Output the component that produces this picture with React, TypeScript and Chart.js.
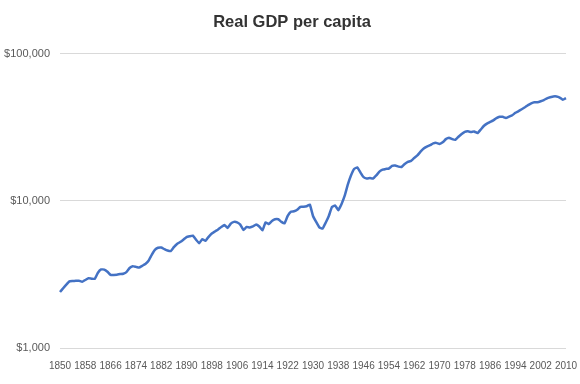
import React, { useEffect, useRef } from "react";
import { Chart, registerables } from "chart.js";

Chart.register(...registerables);

const chartTitle = "Real GDP per capita";

const years: string[] = [
  "1850","1851","1852","1853","1854","1855","1856","1857","1858","1859",
  "1860","1861","1862","1863","1864","1865","1866","1867","1868","1869",
  "1870","1871","1872","1873","1874","1875","1876","1877","1878","1879",
  "1880","1881","1882","1883","1884","1885","1886","1887","1888","1889",
  "1890","1891","1892","1893","1894","1895","1896","1897","1898","1899",
  "1900","1901","1902","1903","1904","1905","1906","1907","1908","1909",
  "1910","1911","1912","1913","1914","1915","1916","1917","1918","1919",
  "1920","1921","1922","1923","1924","1925","1926","1927","1928","1929",
  "1930","1931","1932","1933","1934","1935","1936","1937","1938","1939",
  "1940","1941","1942","1943","1944","1945","1946","1947","1948","1949",
  "1950","1951","1952","1953","1954","1955","1956","1957","1958","1959",
  "1960","1961","1962","1963","1964","1965","1966","1967","1968","1969",
  "1970","1971","1972","1973","1974","1975","1976","1977","1978","1979",
  "1980","1981","1982","1983","1984","1985","1986","1987","1988","1989",
  "1990","1991","1992","1993","1994","1995","1996","1997","1998","1999",
  "2000","2001","2002","2003","2004","2005","2006","2007","2008","2009",
  "2010",
];

const gdpPerCapita: number[] = [
  2400, 2550, 2700, 2840, 2850, 2860, 2870, 2820, 2900, 2980,
  2960, 2950, 3250, 3420, 3410, 3300, 3140, 3140, 3150, 3180,
  3200, 3280, 3500, 3600, 3560, 3520, 3620, 3720, 3920, 4300,
  4650, 4800, 4820, 4700, 4600, 4560, 4850, 5100, 5250, 5450,
  5680, 5750, 5800, 5450, 5150, 5500, 5350, 5700, 6000, 6200,
  6400, 6650, 6850, 6550, 7000, 7200, 7150, 6900, 6350, 6650,
  6600, 6700, 6920, 6700, 6300, 7150, 6950, 7300, 7500, 7500,
  7200, 7030, 7900, 8430, 8500, 8700, 9120, 9120, 9200, 9450,
  7900, 7200, 6610, 6480, 7100, 7900, 9100, 9300, 8650, 9500,
  10800, 12900, 14900, 16500, 16900, 15600, 14500, 14200, 14300, 14200,
  14900, 15800, 16300, 16500, 16600, 17300, 17400, 17100, 17000, 17800,
  18400, 18700, 19600, 20400, 21600, 22700, 23400, 23900, 24600, 24800,
  24400, 25000, 26300, 26900, 26300, 26000, 27300, 28500, 29500, 29700,
  29400, 29600, 28900, 30500, 32300, 33500, 34400, 35300, 36500, 37300,
  37300, 36600, 37400, 38200, 39700, 40800, 42000, 43300, 44800, 46100,
  46900, 46900, 47600, 48500, 49800, 50600, 51300, 51300, 50400, 48700,
  49900,
];

const yTickValues: number[] = [1000, 10000, 100000];
const xLabelStep = 8;

export default function App() {
  const ref = useRef<HTMLCanvasElement | null>(null);

  useEffect(() => {
    if (!ref.current) return;
    const chart = new Chart(ref.current, {
      type: "line",
      data: {
        labels: years,
        datasets: [
          {
            label: chartTitle,
            data: gdpPerCapita,
            borderColor: "#4472C4",
            backgroundColor: "#4472C4",
            borderWidth: 2.5,
            pointRadius: 0,
            tension: 0.1,
            fill: false,
          },
        ],
      },
      options: {
        animation: false,
        responsive: false,
        maintainAspectRatio: false,
        layout: { padding: { left: 4, right: 0, top: 0, bottom: 0 } },
        plugins: {
          legend: { display: false },
          tooltip: { enabled: false },
          title: {
            display: true,
            text: chartTitle,
            color: "#333333",
            font: { family: "'Liberation Sans', Arial, sans-serif", size: 16.5, weight: "bold" },
            padding: { top: 13, bottom: 21 },
          },
        },
        scales: {
          x: {
            type: "category",
            offset: false,
            grid: { display: false, drawTicks: false },
            border: { display: false },
            afterFit: (axis: any) => {
              axis.height = 36;
              axis.paddingLeft = 0;
              axis.paddingRight = 14;
            },
            ticks: {
              autoSkip: false,
              maxRotation: 0,
              minRotation: 0,
              padding: 12,
              color: "#595959",
              font: { family: "'Liberation Sans', Arial, sans-serif", size: 10 },
              callback: (_v: any, i: number) => (i % xLabelStep === 0 ? years[i] : ""),
            },
          },
          y: {
            type: "logarithmic",
            min: 1000,
            max: 100000,
            afterBuildTicks: (axis: any) => {
              axis.ticks = yTickValues.map((v) => ({ value: v }));
            },
            afterFit: (axis: any) => {
              axis.width = 56;
            },
            grid: { color: "#d9d9d9", lineWidth: 1, drawTicks: false },
            border: { display: false },
            ticks: {
              padding: 10,
              color: "#595959",
              font: { family: "'Liberation Sans', Arial, sans-serif", size: 11 },
              callback: (v: any) => "$" + Number(v).toLocaleString("en-US"),
            },
          },
        },
      },
    });
    return () => chart.destroy();
  }, []);

  return (
    <div style={{ position: "fixed", left: 0, top: 0, width: 580, height: 384, background: "#fff" }}>
      <canvas ref={ref} width={580} height={384} style={{ width: 580, height: 384 }} />
    </div>
  );
}
